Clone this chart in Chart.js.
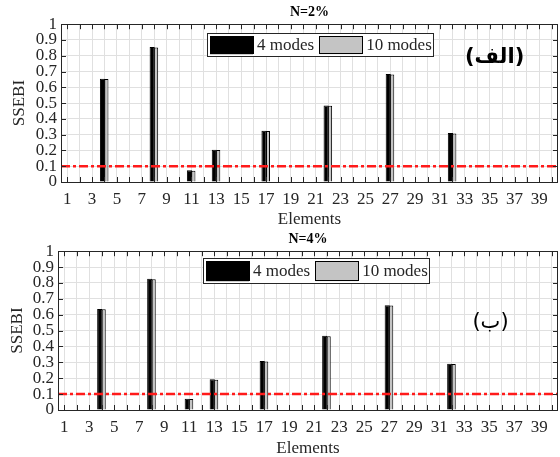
<!DOCTYPE html>
<html lang="en">
<head>
    <meta charset="UTF-8">
    <title>SSEBI per element</title>
    <script src="https://cdn.jsdelivr.net/npm/chart.js@4.4.0/dist/chart.umd.min.js"></script>
    <style>
        body, html {
            margin: 0;
            padding: 0;
            background: #fff;
        }
        canvas {
            display: block;
        }
    </style>
</head>
<body>
    <canvas id="chartTop" width="560" height="228"></canvas>
    <canvas id="chartBottom" width="560" height="229"></canvas>

    <script>
        // Elements 1..40 on the x axis
        const elements = ['1','2','3','4','5','6','7','8','9','10',
                          '11','12','13','14','15','16','17','18','19','20',
                          '21','22','23','24','25','26','27','28','29','30',
                          '31','32','33','34','35','36','37','38','39','40'];

        // N=2% damage severity
        const n2Modes4  = [0,0,0,0.655,0,0,0,0.855,0,0, 0.074,0,0.205,0,0,0,0.325,0,0,0,
                           0,0.485,0,0,0,0,0.685,0,0,0, 0,0.31,0,0,0,0,0,0,0,0];
        const n2Modes10 = [0,0,0,0.652,0,0,0,0.852,0,0, 0.072,0,0.203,0,0,0,0.323,0,0,0,
                           0,0.483,0,0,0,0,0.682,0,0,0, 0,0.307,0,0,0,0,0,0,0,0];

        // N=4% damage severity
        const n4Modes4  = [0,0,0,0.636,0,0,0,0.826,0,0, 0.071,0,0.194,0,0,0,0.308,0,0,0,
                           0,0.467,0,0,0,0,0.66,0,0,0, 0,0.292,0,0,0,0,0,0,0,0];
        const n4Modes10 = [0,0,0,0.634,0,0,0,0.824,0,0, 0.069,0,0.19,0,0,0,0.306,0,0,0,
                           0,0.465,0,0,0,0,0.658,0,0,0, 0,0.29,0,0,0,0,0,0,0,0];

        const seriesNames = ['4 modes', '10 modes'];
        const threshold = 0.1;

        const serif = '"Liberation Serif", "Times New Roman", serif';
        const textColor = '#262626';

        // Threshold line, box with inward ticks, legend and panel label
        const decorations = {
            id: 'decorations',
            afterDatasetsDraw(chart, args, opts) {
                const ctx = chart.ctx;
                const area = chart.chartArea;
                const xs = chart.scales.x;
                const ys = chart.scales.y;

                // red dash-dot threshold
                const ty = ys.getPixelForValue(threshold);
                ctx.save();
                ctx.strokeStyle = '#ff1a1a';
                ctx.lineWidth = 2.5;
                ctx.setLineDash([9, 3, 3, 3]);
                ctx.beginPath();
                ctx.moveTo(area.left, ty);
                ctx.lineTo(area.right, ty);
                ctx.stroke();
                ctx.restore();

                // box and inward ticks
                ctx.save();
                ctx.strokeStyle = '#262626';
                ctx.lineWidth = 1;
                ctx.strokeRect(Math.round(area.left) + 0.5, Math.round(area.top) + 0.5,
                               Math.round(area.right - area.left) - 1, Math.round(area.bottom - area.top));
                ctx.beginPath();
                xs.ticks.forEach((t, i) => {
                    const px = Math.round(xs.getPixelForTick(i)) + 0.5;
                    ctx.moveTo(px, area.bottom);
                    ctx.lineTo(px, area.bottom - 5);
                    ctx.moveTo(px, area.top);
                    ctx.lineTo(px, area.top + 5);
                });
                ys.ticks.forEach(t => {
                    const py = Math.round(ys.getPixelForValue(t.value)) + 0.5;
                    ctx.moveTo(area.left, py);
                    ctx.lineTo(area.left + 5, py);
                    ctx.moveTo(area.right, py);
                    ctx.lineTo(area.right - 5, py);
                });
                ctx.stroke();
                ctx.restore();

                // legend inside the plot
                ctx.save();
                ctx.font = '17px ' + serif;
                ctx.textBaseline = 'middle';
                const lx = area.left + opts.legendX;
                const ly = area.top + opts.legendY;
                const sw = 43;
                let cx = lx + 3;
                const items = chart.data.datasets.map(ds => ({
                    label: ds.label, fill: ds.backgroundColor, edge: ds.borderColor,
                    w: ctx.measureText(ds.label).width
                }));
                const boxW = 3 + items.reduce((s, it) => s + sw + 4 + it.w + 5, 0) - 4;
                ctx.fillStyle = '#fff';
                ctx.fillRect(lx, ly, boxW, opts.legendH);
                ctx.strokeStyle = '#262626';
                ctx.lineWidth = 1;
                ctx.strokeRect(Math.round(lx) + 0.5, Math.round(ly) + 0.5, Math.round(boxW), opts.legendH);
                items.forEach(it => {
                    ctx.fillStyle = it.fill;
                    ctx.fillRect(cx, ly + 3, sw, opts.legendH - 5);
                    ctx.strokeStyle = it.edge;
                    ctx.strokeRect(Math.round(cx) + 0.5, Math.round(ly + 3) + 0.5, sw, opts.legendH - 6);
                    ctx.fillStyle = textColor;
                    ctx.fillText(it.label, cx + sw + 4, ly + opts.legendH / 2 + 1);
                    cx += sw + 4 + it.w + 5;
                });
                ctx.restore();

                // panel label
                ctx.save();
                ctx.font = opts.tagFont;
                ctx.fillStyle = '#000';
                ctx.textAlign = 'center';
                ctx.textBaseline = 'middle';
                ctx.fillText(opts.tag, xs.getPixelForValue(opts.tagX), ys.getPixelForValue(opts.tagY));
                ctx.restore();
            }
        };

        function makeChart(id, title, modes4, modes10, cfg) {
            const ctx = document.getElementById(id).getContext('2d');
            return new Chart(ctx, {
                type: 'bar',
                data: {
                    labels: elements,
                    datasets: [{
                        label: seriesNames[0],
                        data: modes4,
                        backgroundColor: '#000000',
                        borderColor: '#000000',
                        borderWidth: 1,
                        barPercentage: 1.3
                    }, {
                        label: seriesNames[1],
                        data: modes10,
                        backgroundColor: '#c4c4c4',
                        borderColor: '#000000',
                        borderWidth: 1
                    }]
                },
                options: {
                    responsive: false,
                    animation: false,
                    devicePixelRatio: 1,
                    layout: { padding: { left: 0, right: 2, top: 0, bottom: 0 } },
                    datasets: {
                        bar: { categoryPercentage: 0.64, barPercentage: 1 }
                    },
                    plugins: {
                        legend: { display: false },
                        tooltip: { enabled: false },
                        title: {
                            display: true,
                            text: title,
                            fullSize: false,
                            color: '#000',
                            font: { family: serif, size: 14, weight: 'bold' },
                            padding: { top: cfg.titleTop, bottom: cfg.titleBottom }
                        },
                        decorations: cfg.deco
                    },
                    scales: {
                        x: {
                            offset: true,
                            grid: { offset: false, color: '#e0e0e0', drawTicks: false },
                            border: { display: false },
                            ticks: {
                                autoSkip: false,
                                maxRotation: 0,
                                padding: 7,
                                color: textColor,
                                font: { family: serif, size: 17 },
                                callback: function (val, index) {
                                    return index % 2 === 0 ? this.getLabelForValue(val) : '';
                                }
                            },
                            title: {
                                display: true,
                                text: 'Elements',
                                color: textColor,
                                font: { family: serif, size: 17 },
                                padding: { top: 0, bottom: -2 }
                            },
                            afterFit: s => { s.height = cfg.xHeight; }
                        },
                        y: {
                            min: 0,
                            max: 1,
                            grid: { color: '#e0e0e0', drawTicks: false },
                            border: { display: false },
                            ticks: {
                                stepSize: 0.1,
                                autoSkip: false,
                                padding: 4,
                                color: textColor,
                                font: { family: serif, size: 17 },
                                callback: v => String(Number(v.toFixed(1)))
                            },
                            title: {
                                display: true,
                                text: 'SSEBI',
                                color: textColor,
                                font: { family: serif, size: 17 },
                                padding: { top: cfg.yTitlePad, bottom: 0 }
                            },
                            afterFit: s => { s.width = cfg.yWidth; }
                        }
                    }
                },
                plugins: [decorations]
            });
        }

        makeChart('chartTop', 'N=2%', n2Modes4, n2Modes10, {
            titleTop: 4, titleBottom: 3.4, xHeight: 46, yWidth: 61, yTitlePad: 9,
            deco: { legendX: 146, legendY: 9, legendH: 23,
                    tag: '(الف)', tagFont: 'bold 21px "DejaVu Sans"', tagX: 34.4, tagY: 0.79 }
        });

        makeChart('chartBottom', 'N=4%', n4Modes4, n4Modes10, {
            titleTop: 3, titleBottom: 3.4, xHeight: 47, yWidth: 58, yTitlePad: 7,
            deco: { legendX: 145, legendY: 7, legendH: 25,
                    tag: '(ب)', tagFont: '21px "DejaVu Sans"', tagX: 34.1, tagY: 0.55 }
        });
    </script>
</body>
</html>
